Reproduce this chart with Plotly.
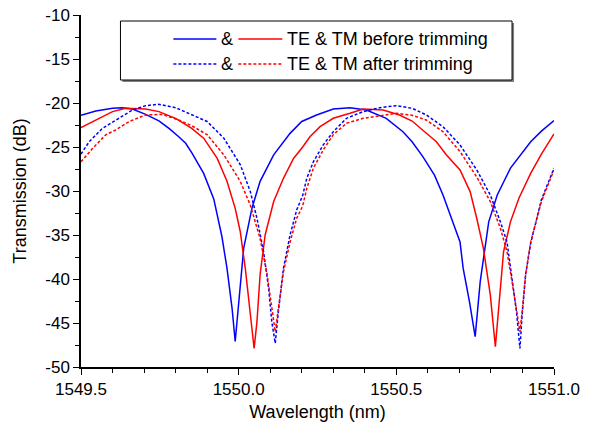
import plotly.graph_objects as go

# ---------------- data ----------------
te_before_wl = [1549.500, 1549.547, 1549.600, 1549.630, 1549.663, 1549.705, 1549.747, 1549.779,
                1549.810, 1549.832, 1549.852, 1549.889, 1549.921, 1549.947, 1549.963, 1549.979,
                1549.989, 1550.000, 1550.016, 1550.042, 1550.068, 1550.111, 1550.163, 1550.200,
                1550.247, 1550.300, 1550.353, 1550.405, 1550.468, 1550.521, 1550.550, 1550.584,
                1550.621, 1550.648, 1550.675, 1550.702, 1550.712, 1550.732, 1550.750, 1550.766,
                1550.793, 1550.820, 1550.862, 1550.926, 1550.960, 1551.000]
te_before_db = [-21.4, -20.9, -20.6, -20.53, -20.68, -21.29, -22.04, -22.88,
                -23.83, -24.58, -25.7, -28.0, -30.9, -35.2, -38.8, -43.3,
                -47.1, -42.6, -36.5, -31.97, -28.9, -25.9, -23.45, -22.1,
                -21.36, -20.68, -20.53, -20.8, -21.74, -23.26, -24.4, -26.1,
                -28.2, -30.45, -33.1, -35.8, -38.8, -42.6, -46.55, -40.3,
                -33.5, -30.45, -27.4, -24.4, -23.2, -22.0]

tm_before_wl = [1549.500, 1549.547, 1549.600, 1549.642, 1549.705, 1549.747, 1549.800, 1549.850,
                1549.889, 1549.932, 1549.963, 1549.989, 1550.005, 1550.021, 1550.037, 1550.049,
                1550.058, 1550.068, 1550.084, 1550.111, 1550.142, 1550.174, 1550.203, 1550.226,
                1550.258, 1550.300, 1550.353, 1550.395, 1550.458, 1550.510, 1550.550, 1550.584,
                1550.627, 1550.659, 1550.702, 1550.734, 1550.755, 1550.776, 1550.798, 1550.814,
                1550.824, 1550.840, 1550.862, 1550.889, 1550.926, 1550.960, 1551.000]
tm_before_db = [-22.8, -21.93, -20.98, -20.6, -20.68, -20.98, -21.74, -22.85,
                -24.0, -26.3, -28.9, -31.97, -34.6, -38.8, -44.1, -47.9,
                -44.85, -39.5, -35.0, -31.2, -28.56, -26.3, -25.0, -23.83,
                -22.69, -21.74, -21.17, -20.68, -20.8, -21.36, -22.05, -23.07,
                -24.4, -25.9, -27.6, -30.07, -33.1, -36.5, -41.8, -47.7,
                -43.3, -36.9, -33.5, -30.8, -28.0, -25.8, -23.5]

te_after_wl = [1549.500, 1549.526, 1549.568, 1549.610, 1549.663, 1549.705, 1549.747, 1549.800,
               1549.852, 1549.900, 1549.953, 1550.005, 1550.037, 1550.058, 1550.079, 1550.095,
               1550.105, 1550.116, 1550.126, 1550.142, 1550.163, 1550.184, 1550.203, 1550.216,
               1550.237, 1550.268, 1550.300, 1550.342, 1550.395, 1550.447, 1550.500, 1550.550,
               1550.595, 1550.648, 1550.702, 1550.755, 1550.798, 1550.830, 1550.851, 1550.867,
               1550.881, 1550.892, 1550.899, 1550.910, 1550.926, 1550.960, 1551.000]
te_after_db = [-25.8, -24.4, -22.88, -21.93, -20.8, -20.3, -20.15, -20.53,
               -21.33, -22.1, -24.0, -27.0, -30.07, -33.1, -36.9, -41.06,
               -44.85, -47.3, -43.7, -38.8, -35.0, -32.16, -30.5, -28.56,
               -26.67, -24.77, -23.26, -21.74, -20.98, -20.53, -20.3, -20.6,
               -21.36, -22.69, -24.77, -27.6, -30.45, -33.5, -35.8, -39.9,
               -43.7, -47.9, -44.1, -39.5, -35.95, -31.0, -27.4]

tm_after_wl = [1549.500, 1549.537, 1549.579, 1549.610, 1549.653, 1549.705, 1549.758, 1549.810,
               1549.852, 1549.900, 1549.953, 1550.005, 1550.037, 1550.068, 1550.089, 1550.105,
               1550.116, 1550.126, 1550.142, 1550.163, 1550.184, 1550.203, 1550.216, 1550.237,
               1550.268, 1550.300, 1550.342, 1550.395, 1550.447, 1550.500, 1550.550, 1550.595,
               1550.648, 1550.702, 1550.755, 1550.798, 1550.830, 1550.851, 1550.867, 1550.881,
               1550.892, 1550.899, 1550.910, 1550.926, 1550.960, 1551.000]
tm_after_db = [-26.67, -25.15, -23.6, -23.07, -22.1, -21.36, -21.3, -21.93,
               -22.6, -23.6, -25.9, -28.9, -31.6, -35.4, -39.2, -43.3,
               -46.0, -43.3, -39.2, -35.8, -33.1, -31.7, -29.7, -27.4,
               -25.34, -23.6, -22.3, -21.74, -21.44, -21.17, -21.4, -21.93,
               -23.26, -25.53, -28.4, -31.2, -34.24, -36.9, -40.3, -43.7,
               -46.0, -43.7, -39.5, -35.8, -31.2, -27.6]

x_tick_vals = [1549.5, 1550.0, 1550.5, 1551.0]
x_tick_text = ["1549.5", "1550.0", "1550.5", "1551.0"]
y_tick_vals = [-50, -45, -40, -35, -30, -25, -20, -15, -10]
y_tick_text = ["-50", "-45", "-40", "-35", "-30", "-25", "-20", "-15", "-10"]

legend_rows = ["TE & TM before trimming", "TE & TM after trimming"]

# ---------------- figure ----------------
W, H = 589, 434
L, R, T, B = 80.5, 554.0, 15.0, 367.0
FONT = "Arial, Liberation Sans, sans-serif"
BLUE, RED = "#0000FF", "#FF0000"
DOT = "3px,2px"


def px(X):
    return (X - L) / (R - L)


def py(Y):
    return (B - Y) / (B - T)


fig = go.Figure()
series = [
    (te_before_wl, te_before_db, BLUE, "solid"),
    (tm_before_wl, tm_before_db, RED, "solid"),
    (te_after_wl, te_after_db, BLUE, DOT),
    (tm_after_wl, tm_after_db, RED, DOT),
]
for xs, ys, col, dash in series:
    fig.add_trace(go.Scatter(x=xs, y=ys, mode="lines",
                             line=dict(color=col, width=1.5, dash=dash),
                             showlegend=False, hoverinfo="skip"))

axis_common = dict(showline=True, linecolor="black", linewidth=1.5, mirror=False,
                   showgrid=False, zeroline=False, ticks="outside", ticklen=6,
                   tickwidth=1.2, tickcolor="black",
                   tickfont=dict(family=FONT, size=17, color="black"))

fig.update_xaxes(range=[1549.5, 1551.0], tickmode="array", tickvals=x_tick_vals,
                 ticktext=x_tick_text,
                 minor=dict(tickmode="linear", tick0=1549.5, dtick=0.1, ticks="outside",
                            ticklen=4, tickwidth=1.2, tickcolor="black", showgrid=False),
                 title=dict(text="Wavelength (nm)", font=dict(family=FONT, size=18, color="black"),
                            standoff=7),
                 **axis_common)
fig.update_yaxes(range=[-50, -10], tickmode="array", tickvals=y_tick_vals,
                 ticktext=y_tick_text,
                 minor=dict(tickmode="linear", tick0=-50, dtick=2.5, ticks="outside",
                            ticklen=4, tickwidth=1.2, tickcolor="black", showgrid=False),
                 title=dict(text="Transmission (dB)", font=dict(family=FONT, size=18, color="black"),
                            standoff=14),
                 **axis_common)

shapes = []
# legend shadow + box
shapes.append(dict(type="rect", xref="paper", yref="paper",
                   x0=px(122), x1=px(514), y0=py(82), y1=py(23),
                   line=dict(width=0), fillcolor="#808080", layer="above"))
shapes.append(dict(type="rect", xref="paper", yref="paper",
                   x0=px(120), x1=px(512), y0=py(80), y1=py(21),
                   line=dict(color="black", width=1), fillcolor="white", layer="above"))
row_y = [39, 64]
for i, ry in enumerate(row_y):
    d = "solid" if i == 0 else DOT
    shapes.append(dict(type="line", xref="paper", yref="paper",
                       x0=px(173), x1=px(216), y0=py(ry), y1=py(ry),
                       line=dict(color=BLUE, width=1.5, dash=d), layer="above"))
    shapes.append(dict(type="line", xref="paper", yref="paper",
                       x0=px(238), x1=px(282), y0=py(ry), y1=py(ry),
                       line=dict(color=RED, width=1.5, dash=d), layer="above"))

annotations = []
for i, ry in enumerate(row_y):
    annotations.append(dict(xref="paper", yref="paper", x=px(227), y=py(ry),
                            text="&", showarrow=False, xanchor="center", yanchor="middle",
                            font=dict(family=FONT, size=18, color="black")))
    annotations.append(dict(xref="paper", yref="paper", x=px(285), y=py(ry),
                            text=legend_rows[i], showarrow=False, xanchor="left",
                            yanchor="middle",
                            font=dict(family=FONT, size=18, color="black")))

fig.update_layout(width=W, height=H, margin=dict(l=L, r=W - R, t=T, b=H - B, autoexpand=False),
                  paper_bgcolor="white", plot_bgcolor="white",
                  shapes=shapes, annotations=annotations,
                  font=dict(family=FONT, size=18, color="black"))

fig.write_html("out.html", config={"displayModeBar": False},
               post_script="document.body.style.margin='0px';document.body.style.padding='0px';")
